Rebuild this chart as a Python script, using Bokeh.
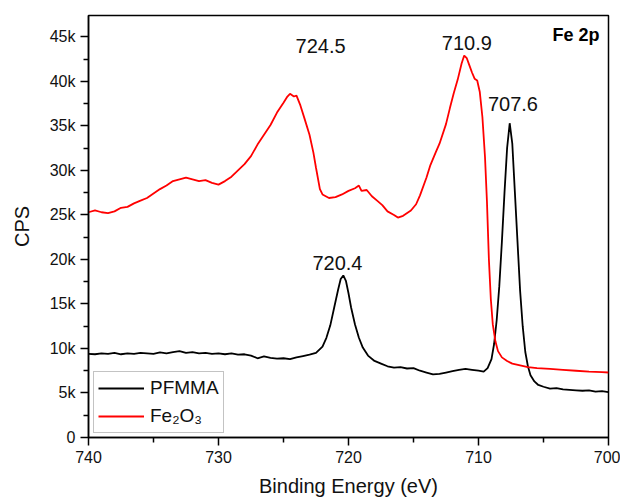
from bokeh.plotting import figure
from bokeh.models import Range1d, FixedTicker, Legend, LegendItem, ColumnDataSource
from bokeh.core.properties import value
from bokeh.embed import file_html
from bokeh.resources import INLINE

# ---- data (binding energy in eV, intensity in CPS) ----
pfmma_be = [740, 739.5, 739, 738.5, 738, 737.5, 737, 736.5, 736, 735.5, 735, 734.5, 734, 733.5, 733,
            732.5, 732, 731.5, 731, 730.5, 730, 729.5, 729, 728.5, 728, 727.5, 727, 726.5, 726, 725.5,
            725, 724.5, 724, 723.5, 723, 722.5, 722, 721.7, 721.4, 721.1, 720.8, 720.6, 720.4, 720.2,
            720.0, 719.8, 719.5, 719.2, 718.9, 718.5, 718, 717.5, 717, 716.5, 716, 715.5, 715, 714.5,
            714, 713.5, 713, 712.5, 712, 711.5, 711, 710.5, 710, 709.6, 709.3, 709.0, 708.8, 708.6,
            708.4, 708.2, 708.0, 707.8, 707.6, 707.4, 707.2, 707.0, 706.8, 706.6, 706.4, 706.2, 706.0,
            705.7, 705.4, 705, 704.5, 704, 703.5, 703, 702.5, 702, 701.5, 701, 700.5, 700]
pfmma_cps = [9400, 9350, 9450, 9400, 9500, 9350, 9450, 9400, 9500, 9450, 9400, 9550, 9450, 9600, 9700,
             9500, 9600, 9450, 9500, 9400, 9450, 9350, 9450, 9300, 9350, 9200, 8900, 9100, 8950, 8850,
             8900, 8800, 9000, 9150, 9300, 9500, 10200, 11200, 12600, 14600, 16600, 17800, 18200, 17600,
             16200, 14600, 12700, 11200, 10100, 9200, 8600, 8300, 8000, 7850, 7900, 7750, 7800, 7500,
             7300, 7100, 7150, 7300, 7450, 7600, 7700, 7600, 7500, 7400, 7800, 8800, 10500, 13200,
             17000, 22000, 27500, 32500, 35300, 33000, 27500, 22000, 16500, 12500, 9600, 8000, 7000,
             6300, 5900, 5700, 5500, 5550, 5400, 5350, 5300, 5250, 5300, 5150, 5200, 5100]

fe2o3_be = [740, 739.5, 739, 738.5, 738, 737.5, 737, 736.5, 736, 735.5, 735, 734.5, 734, 733.5, 733,
            732.5, 732, 731.5, 731, 730.5, 730, 729.5, 729, 728.5, 728, 727.5, 727, 726.5, 726, 725.5,
            725, 724.7, 724.5, 724.2, 724.0, 723.7, 723.4, 723.0, 722.7, 722.5, 722.2, 722.0, 721.5,
            721.0, 720.5, 720.0, 719.5, 719.2, 719.0, 718.6, 718.2, 717.8, 717.4, 717.0, 716.5, 716.2,
            715.8, 715.2, 714.8, 714.5, 714.0, 713.7, 713.3, 713.0, 712.5, 712.2, 711.9, 711.6, 711.3,
            711.1, 710.9, 710.7, 710.5, 710.3, 710.1, 709.9, 709.7, 709.5, 709.35, 709.2, 709.05, 708.9,
            708.7, 708.5, 708.2, 707.8, 707.4, 706.8, 706.2, 705.5, 704.5, 703.5, 702.5, 701.5, 700.5, 700]
fe2o3_cps = [25300, 25500, 25300, 25200, 25400, 25800, 25900, 26300, 26600, 26900, 27400, 27900, 28300,
             28800, 29000, 29200, 29000, 28800, 28900, 28600, 28400, 28800, 29300, 30000, 30700, 31600,
             32900, 34000, 35100, 36500, 37600, 38300, 38600, 38300, 38400, 37300, 35900, 34000, 32000,
             30300, 27900, 27300, 26900, 27000, 27300, 27700, 28000, 28300, 27700, 27800, 27100, 26600,
             26100, 25400, 25000, 24700, 24900, 25500, 26200, 27200, 29200, 30600, 32000, 33000, 35200,
             37000, 38700, 40200, 42000, 42900, 42600, 41800, 41000, 40300, 40100, 38800, 36000, 31500,
             26500, 20000, 15500, 12700, 10800, 9700, 9000, 8600, 8300, 8100, 7900, 7800, 7700, 7600,
             7500, 7400, 7350, 7300]

peak_labels = ["724.5", "710.9", "707.6", "720.4"]
peak_label_x = [722.15, 710.9, 707.35, 720.85]
peak_label_y = [44000, 44300, 37450, 19600]

x_ticks = [740, 730, 720, 710, 700]
y_ticks = [0, 5000, 10000, 15000, 20000, 25000, 30000, 35000, 40000, 45000]
y_tick_labels = ["0", "5k", "10k", "15k", "20k", "25k", "30k", "35k", "40k", "45k"]

FONT = "Liberation Sans"

p = figure(width=620, height=500, output_backend="svg", toolbar_location=None,
           x_range=Range1d(740, 700), y_range=Range1d(0, 47400),
           min_border_left=88, min_border_right=12, min_border_top=15, min_border_bottom=63)
p.grid.visible = False
p.outline_line_color = "black"
p.outline_line_width = 1.5
p.background_fill_color = "white"
p.border_fill_color = "white"

l1 = p.line(pfmma_be, pfmma_cps, line_color="black", line_width=1.8)
l2 = p.line(fe2o3_be, fe2o3_cps, line_color="#ff0000", line_width=1.8)

src = ColumnDataSource(dict(x=peak_label_x, y=peak_label_y, t=peak_labels))
p.text(x="x", y="y", text="t", source=src, text_align="center", text_baseline="middle",
       text_font=value(FONT), text_font_size="20px", text_color="#111111")
p.text(x=[702.5], y=[45200], text=["Fe 2p"], text_align="center", text_baseline="middle",
       text_font=value(FONT), text_font_size="18px", text_font_style="bold", text_color="black")

for ax in (p.xaxis[0], p.yaxis[0]):
    ax.axis_line_width = 1.5
    ax.axis_line_color = "black"
    ax.major_tick_line_width = 1.5
    ax.minor_tick_line_width = 1.5
    ax.major_tick_in = 0
    ax.minor_tick_in = 0
    ax.major_tick_out = 8
    ax.minor_tick_out = 5
    ax.major_label_text_font = FONT
    ax.major_label_text_font_size = "16px"
    ax.major_label_text_color = "#111111"
    ax.axis_label_text_font = FONT
    ax.axis_label_text_font_size = "20px"
    ax.axis_label_text_font_style = "normal"
    ax.axis_label_text_color = "#111111"

p.xaxis[0].ticker = FixedTicker(ticks=x_ticks, minor_ticks=[735, 725, 715, 705])
p.yaxis[0].ticker = FixedTicker(ticks=y_ticks,
                                minor_ticks=[2500, 7500, 12500, 17500, 22500, 27500, 32500, 37500, 42500, 47500])
p.yaxis[0].major_label_overrides = {t: s for t, s in zip(y_ticks, y_tick_labels)}
p.xaxis[0].axis_label = "Binding Energy (eV)"
p.yaxis[0].axis_label = "CPS"
p.xaxis[0].major_label_standoff = 5
p.xaxis[0].axis_label_standoff = 9
p.yaxis[0].major_label_standoff = 5
p.yaxis[0].axis_label_standoff = 14

legend = Legend(items=[LegendItem(label="PFMMA", renderers=[l1]),
                       LegendItem(label="Fe\u2082O\u2083", renderers=[l2])],
                location=(5, 4), orientation="vertical")
legend.label_text_font = FONT
legend.label_text_font_size = "19px"
legend.label_text_color = "#111111"
legend.glyph_width = 46
legend.glyph_height = 24
legend.label_height = 24
legend.label_standoff = 6
legend.padding = 4
legend.spacing = 4
legend.margin = 0
legend.border_line_color = "#888888"
legend.border_line_width = 1.5
legend.background_fill_alpha = 1
p.add_layout(legend, "center")

open("out.html", "w").write(file_html(p, INLINE))
